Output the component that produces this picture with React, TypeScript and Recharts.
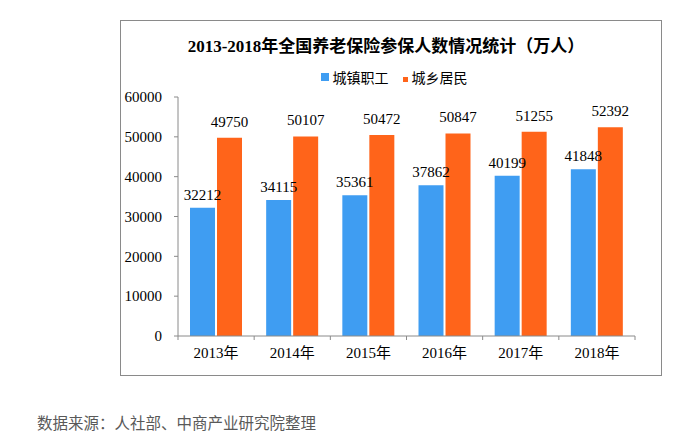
import React from 'react';
import { BarChart, Bar, XAxis, YAxis, Legend, LabelList } from 'recharts';

const years = ['2013年', '2014年', '2015年', '2016年', '2017年', '2018年'];
const urbanWorkers = [32212, 34115, 35361, 37862, 40199, 41848];
const ruralResidents = [49750, 50107, 50472, 50847, 51255, 52392];
const yTicks = [0, 10000, 20000, 30000, 40000, 50000, 60000];

const BLUE = '#3F9DF2';
const ORANGE = '#FF641A';
const AXIS = '#8A8A8A';
const SERIF = "'Liberation Serif', 'Noto Sans CJK SC', serif";

const data = years.map((year, i) => ({
  year,
  urban: urbanWorkers[i],
  rural: ruralResidents[i],
}));

const CHART_W = 540;
const CHART_H = 354;
// legend (about 20px tall) is added on top of margin.top by recharts
const MARGIN = { top: 56, right: 26, bottom: 0, left: 0 };
const Y_WIDTH = 57;
const BAND = (CHART_W - MARGIN.right - Y_WIDTH) / years.length;

const YearTick = (props: any) => {
  const { x, y, payload, index } = props;
  const left = x - BAND / 2;
  const right = x + BAND / 2;
  return (
    <g>
      <line x1={left} y1={y} x2={left} y2={y + 4} stroke={AXIS} />
      {index === years.length - 1 && <line x1={right} y1={y} x2={right} y2={y + 4} stroke={AXIS} />}
      <text x={x} y={y + 22} textAnchor="middle" fill="#000" fontSize={15} fontFamily={SERIF}>
        {payload.value}
      </text>
    </g>
  );
};

const legendItems = [
  { name: '城镇职工', color: BLUE, size: 8 },
  { name: '城乡居民', color: ORANGE, size: 5 },
];

const renderLegend = () => (
  <div style={{ display: 'flex', justifyContent: 'center', alignItems: 'center', gap: 14, paddingLeft: 6, height: 20 }}>
    {legendItems.map((item) => (
      <div key={item.name} style={{ display: 'flex', alignItems: 'center' }}>
        <span style={{ width: item.size, height: item.size, background: item.color, display: 'inline-block', marginRight: 4, marginTop: item.size < 8 ? 4 : 0 }} />
        <span style={{ fontSize: 14, fontFamily: SERIF, color: '#000' }}>{item.name}</span>
      </div>
    ))}
  </div>
);

export default function App() {
  return (
    <div style={{ position: 'absolute', left: 0, top: 0, width: 691, height: 447, background: '#fff' }}>
      <div
        style={{
          position: 'absolute',
          left: 120,
          top: 20,
          width: CHART_W,
          height: CHART_H,
          border: `1px solid ${AXIS}`,
        }}
      >
        <div
          style={{
            position: 'absolute',
            left: 0,
            top: 11,
            width: CHART_W - 10,
            textAlign: 'center',
            fontSize: 17,
            fontWeight: 'bold',
            fontFamily: SERIF,
            color: '#000',
            zIndex: 2,
          }}
        >
          2013-2018年全国养老保险参保人数情况统计（万人）
        </div>
        <BarChart width={CHART_W} height={CHART_H} data={data} margin={MARGIN} barSize={25} barGap={2}>
          <XAxis
            dataKey="year"
            height={39}
            stroke={AXIS}
            tickLine={false}
            tickSize={0}
            tickMargin={0}
            interval={0}
            tick={<YearTick />}
          />
          <YAxis
            width={Y_WIDTH}
            domain={[0, 60000]}
            ticks={yTicks}
            interval={0}
            stroke={AXIS}
            tickSize={4}
            tickMargin={12}
            tick={{ fill: '#000', fontSize: 15, fontFamily: SERIF }}
          />
          <Legend
            verticalAlign="top"
            content={renderLegend}
            wrapperStyle={{ top: 46, left: 0, width: CHART_W }}
          />
          <Bar dataKey="urban" name="城镇职工" fill={BLUE} isAnimationActive={false}>
            <LabelList dataKey="urban" position="top" offset={8} fill="#000" fontSize={15} fontFamily={SERIF} />
          </Bar>
          <Bar dataKey="rural" name="城乡居民" fill={ORANGE} isAnimationActive={false}>
            <LabelList dataKey="rural" position="top" offset={11} fill="#000" fontSize={15} fontFamily={SERIF} />
          </Bar>
        </BarChart>
      </div>
      <div
        style={{
          position: 'absolute',
          left: 37,
          top: 411,
          fontSize: 15.5,
          fontFamily: "'Noto Sans CJK SC', sans-serif",
          color: '#595959',
          whiteSpace: 'nowrap',
        }}
      >
        数据来源：人社部、中商产业研究院整理
      </div>
    </div>
  );
}
